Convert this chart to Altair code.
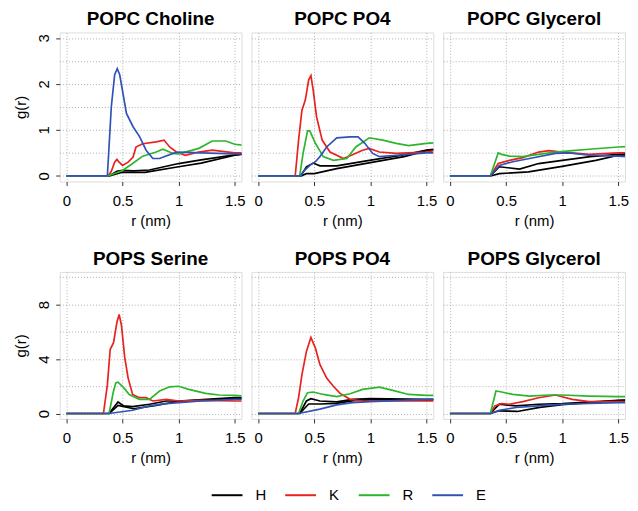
import altair as alt
import pandas as pd

SERIES = ["H", "K", "R", "E"]
COLORS = ["#000000", "#E8221E", "#2DB52D", "#3053B5"]

# ---- POPC Choline ----
choline_H1 = [(0, 0), (0.38, 0), (0.45, 0.10), (0.5, 0.12), (0.6, 0.11), (0.74, 0.13), (1.0, 0.27), (1.2, 0.35), (1.5, 0.46), (1.57, 0.48)]
choline_H2 = [(0.38, 0), (0.5, 0.08), (0.7, 0.08), (1.0, 0.20), (1.2, 0.28), (1.5, 0.45), (1.57, 0.47)]
choline_K = [(0, 0), (0.37, 0), (0.40, 0.10), (0.43, 0.30), (0.45, 0.36), (0.47, 0.30), (0.5, 0.23), (0.55, 0.30), (0.594, 0.41), (0.62, 0.63), (0.68, 0.70), (0.8, 0.74), (0.87, 0.78), (0.92, 0.63), (0.98, 0.52), (1.06, 0.45), (1.18, 0.52), (1.3, 0.56), (1.5, 0.50), (1.57, 0.50)]
choline_R = [(0, 0), (0.37, 0), (0.5, 0.12), (0.59, 0.27), (0.68, 0.43), (0.8, 0.52), (0.86, 0.58), (0.95, 0.49), (1.0, 0.48), (1.18, 0.60), (1.3, 0.76), (1.42, 0.76), (1.5, 0.69), (1.57, 0.67)]
choline_E = [(0, 0), (0.365, 0), (0.40, 1.5), (0.43, 2.2), (0.453, 2.33), (0.475, 2.2), (0.535, 1.36), (0.594, 1.07), (0.653, 0.85), (0.71, 0.56), (0.77, 0.38), (0.83, 0.38), (0.95, 0.49), (1.0, 0.52), (1.2, 0.50), (1.5, 0.48), (1.57, 0.48)]

# ---- POPC PO4 ----
popc_po4_H1 = [(0, 0), (0.38, 0), (0.43, 0.20), (0.49, 0.28), (0.55, 0.22), (0.70, 0.22), (0.99, 0.34), (1.28, 0.45), (1.5, 0.56), (1.57, 0.58)]
popc_po4_H2 = [(0.38, 0), (0.43, 0.05), (0.5, 0.05), (0.7, 0.16), (1.0, 0.29), (1.3, 0.42), (1.5, 0.55), (1.57, 0.57)]
popc_po4_K = [(0, 0), (0.33, 0), (0.36, 0.78), (0.39, 1.43), (0.42, 1.65), (0.45, 2.09), (0.47, 2.18), (0.49, 1.87), (0.52, 1.29), (0.57, 0.78), (0.64, 0.52), (0.76, 0.38), (0.83, 0.45), (0.93, 0.56), (0.99, 0.60), (1.08, 0.52), (1.23, 0.49), (1.5, 0.52), (1.57, 0.55)]
popc_po4_R = [(0, 0), (0.37, 0), (0.40, 0.49), (0.44, 0.98), (0.46, 0.98), (0.51, 0.71), (0.58, 0.42), (0.67, 0.34), (0.79, 0.38), (0.87, 0.63), (0.99, 0.83), (1.11, 0.78), (1.23, 0.71), (1.34, 0.66), (1.5, 0.71), (1.57, 0.72)]
popc_po4_E = [(0, 0), (0.38, 0), (0.40, 0.09), (0.46, 0.23), (0.51, 0.31), (0.55, 0.42), (0.61, 0.63), (0.70, 0.83), (0.82, 0.85), (0.89, 0.85), (0.95, 0.71), (1.02, 0.49), (1.08, 0.42), (1.23, 0.45), (1.5, 0.50), (1.57, 0.50)]

# ---- POPC Glycerol ----
popc_gly_H1 = [(0, 0), (0.36, 0), (0.44, 0.20), (0.62, 0.15), (0.79, 0.27), (1.0, 0.34), (1.25, 0.42), (1.5, 0.47), (1.57, 0.48)]
popc_gly_H2 = [(0.36, 0), (0.44, 0.05), (0.7, 0.09), (1.0, 0.21), (1.3, 0.34), (1.5, 0.45), (1.57, 0.46)]
popc_gly_K = [(0, 0), (0.36, 0), (0.43, 0.27), (0.53, 0.34), (0.65, 0.40), (0.79, 0.52), (0.88, 0.55), (1.0, 0.52), (1.24, 0.47), (1.5, 0.50), (1.57, 0.50)]
popc_gly_R = [(0, 0), (0.36, 0), (0.43, 0.50), (0.46, 0.47), (0.53, 0.43), (0.65, 0.42), (0.79, 0.47), (0.94, 0.52), (1.09, 0.55), (1.24, 0.58), (1.5, 0.63), (1.57, 0.64)]
popc_gly_E = [(0, 0), (0.36, 0), (0.44, 0.23), (0.56, 0.31), (0.71, 0.38), (0.94, 0.49), (1.06, 0.50), (1.24, 0.45), (1.5, 0.43), (1.57, 0.42)]

# ---- POPS Serine ----
serine_H1 = [(0, 0), (0.38, 0), (0.46, 0.85), (0.51, 0.56), (0.59, 0.50), (0.74, 0.68), (0.89, 0.92), (1.0, 0.92), (1.5, 1.16), (1.57, 1.16)]
serine_H2 = [(0.38, 0), (0.46, 0.60), (0.6, 0.35), (0.8, 0.60), (1.0, 0.90), (1.5, 1.10), (1.57, 1.10)]
serine_K = [(0, 0), (0.33, 0), (0.365, 2.1), (0.39, 4.7), (0.42, 5.2), (0.45, 6.7), (0.47, 7.27), (0.49, 6.5), (0.52, 4.1), (0.55, 2.6), (0.59, 1.4), (0.65, 1.16), (0.71, 1.16), (0.77, 0.92), (0.89, 1.04), (1.0, 0.92), (1.2, 0.97), (1.5, 0.92), (1.57, 0.92)]
serine_R = [(0, 0), (0.38, 0), (0.42, 1.65), (0.44, 2.25), (0.46, 2.3), (0.51, 1.9), (0.56, 1.4), (0.65, 1.04), (0.74, 1.04), (0.83, 1.65), (0.92, 1.96), (1.0, 2.0), (1.09, 1.77), (1.24, 1.48), (1.36, 1.36), (1.5, 1.33), (1.57, 1.30)]
serine_E = [(0, 0), (0.38, 0), (0.59, 0.24), (0.74, 0.56), (0.89, 0.73), (1.0, 0.80), (1.2, 0.92), (1.5, 1.04), (1.57, 1.05)]

# ---- POPS PO4 ----
pops_po4_H1 = [(0, 0), (0.37, 0), (0.43, 0.92), (0.47, 1.09), (0.55, 0.92), (0.7, 0.85), (0.84, 1.04), (1.0, 1.09), (1.5, 1.04), (1.57, 1.04)]
pops_po4_H2 = [(0.37, 0), (0.45, 0.70), (0.55, 0.70), (0.7, 0.75), (0.85, 0.95), (1.0, 1.0), (1.5, 1.0), (1.57, 1.0)]
pops_po4_K = [(0, 0), (0.33, 0), (0.36, 1.16), (0.39, 2.86), (0.43, 4.56), (0.47, 5.58), (0.51, 4.8), (0.55, 3.6), (0.61, 2.6), (0.67, 2.0), (0.73, 1.48), (0.82, 1.04), (0.93, 0.92), (1.2, 0.92), (1.5, 0.92), (1.57, 0.92)]
pops_po4_R = [(0, 0), (0.36, 0), (0.40, 0.92), (0.44, 1.53), (0.49, 1.58), (0.58, 1.4), (0.70, 1.24), (0.82, 1.45), (0.93, 1.77), (1.08, 1.94), (1.2, 1.7), (1.34, 1.4), (1.5, 1.33), (1.57, 1.33)]
pops_po4_E = [(0, 0), (0.36, 0), (0.55, 0.32), (0.70, 0.63), (0.84, 0.80), (1.0, 0.87), (1.5, 1.04), (1.57, 1.05)]

# ---- POPS Glycerol ----
pops_gly_H1 = [(0, 0), (0.36, 0), (0.44, 0.68), (0.59, 0.56), (0.79, 0.68), (1.0, 0.73), (1.5, 0.97), (1.57, 0.98)]
pops_gly_H2 = [(0.36, 0), (0.44, 0.20), (0.6, 0.15), (0.8, 0.45), (1.0, 0.65), (1.5, 0.95), (1.57, 0.96)]
pops_gly_K = [(0, 0), (0.36, 0), (0.40, 0.56), (0.46, 0.73), (0.53, 0.68), (0.65, 0.87), (0.79, 1.16), (0.94, 1.36), (1.09, 1.04), (1.24, 0.87), (1.5, 0.87), (1.57, 0.87)]
pops_gly_R = [(0, 0), (0.36, 0), (0.41, 1.65), (0.46, 1.58), (0.56, 1.4), (0.71, 1.28), (0.88, 1.36), (1.0, 1.36), (1.24, 1.28), (1.5, 1.24), (1.57, 1.24)]
pops_gly_E = [(0, 0), (0.36, 0), (0.44, 0.24), (0.59, 0.44), (0.79, 0.56), (1.0, 0.68), (1.5, 0.80), (1.57, 0.80)]

X_TICKS = [0, 0.5, 1, 1.5]
Y_GRID_TOP = [0, 0.5, 1, 1.5, 2, 2.5, 3]
Y_GRID_BOTTOM = [0, 2, 4, 6, 8, 10]

panels_top = [
    ("POPC Choline", {"H1": choline_H1, "H2": choline_H2, "K": choline_K, "R": choline_R, "E": choline_E}),
    ("POPC PO4", {"H1": popc_po4_H1, "H2": popc_po4_H2, "K": popc_po4_K, "R": popc_po4_R, "E": popc_po4_E}),
    ("POPC Glycerol", {"H1": popc_gly_H1, "H2": popc_gly_H2, "K": popc_gly_K, "R": popc_gly_R, "E": popc_gly_E}),
]
panels_bottom = [
    ("POPS Serine", {"H1": serine_H1, "H2": serine_H2, "K": serine_K, "R": serine_R, "E": serine_E}),
    ("POPS PO4", {"H1": pops_po4_H1, "H2": pops_po4_H2, "K": pops_po4_K, "R": pops_po4_R, "E": pops_po4_E}),
    ("POPS Glycerol", {"H1": pops_gly_H1, "H2": pops_gly_H2, "K": pops_gly_K, "R": pops_gly_R, "E": pops_gly_E}),
]

FONT = "Liberation Sans"


def to_df(sd):
    rows = []
    for name, pts in sd.items():
        for r, g in pts:
            rows.append({"r": r, "g": g, "series": name[0], "curve": name})
    return pd.DataFrame(rows)


def panel(title, sd, ydomain, ygrid, label_mod, first, height):
    df = to_df(sd)
    x = alt.X("r:Q",
              scale=alt.Scale(domain=[-0.06, 1.56], nice=False, zero=False),
              axis=alt.Axis(values=X_TICKS, format="~g", title="r (nm)",
                            grid=True, gridDash=[1, 2], gridColor="#b0b0b0",
                            domain=False, tickSize=4, tickColor="#333",
                            labelFontSize=15, titleFontSize=15, labelFont=FONT,
                            titleFont=FONT, titleFontWeight="normal",
                            labelColor="#000", titleColor="#000",
                            labelPadding=8, titlePadding=5, labelFlush=False))
    if first:
        yaxis = alt.Axis(values=ygrid, format="~g", title="g(r)",
                         labelExpr=f"datum.value % {label_mod} == 0 ? datum.label : ''",
                         tickOpacity={"condition": {"test": f"datum.value % {label_mod} != 0", "value": 0}, "value": 1},
                         grid=True, gridDash=[1, 2], gridColor="#b0b0b0",
                         domain=False, tickSize=4, tickColor="#333",
                         labelAngle=-90, labelAlign="center", labelBaseline="bottom",
                         labelFontSize=15, titleFontSize=15, labelFont=FONT,
                         titleFont=FONT, titleFontWeight="normal",
                         labelColor="#000", titleColor="#000",
                         labelPadding=4, titlePadding=8)
    else:
        yaxis = alt.Axis(values=ygrid, title=None, labels=False, ticks=False,
                         grid=True, gridDash=[1, 2], gridColor="#b0b0b0", domain=False)
    y = alt.Y("g:Q", scale=alt.Scale(domain=ydomain, nice=False, zero=False), axis=yaxis)
    color = alt.Color("series:N",
                      scale=alt.Scale(domain=SERIES, range=COLORS),
                      legend=alt.Legend(orient="none", direction="horizontal",
                                        legendX=152, legendY=449, title=None,
                                        symbolType="stroke", symbolSize=961,
                                        symbolStrokeWidth=2, labelFontSize=15,
                                        labelFont=FONT, labelColor="#000",
                                        labelOffset=12, columnPadding=15))
    layers = []
    for s in SERIES:
        layers.append(
            alt.Chart(df).transform_filter(alt.datum.series == s)
            .mark_line(clip=True, strokeWidth=1.7)
            .encode(x=x, y=y, color=color, detail="curve:N")
        )
    return alt.layer(*layers).properties(
        width=183, height=height,
        title=alt.TitleParams(title, fontSize=19, fontWeight="bold", font=FONT,
                              color="#000", anchor="middle", offset=3))


top = alt.hconcat(*[panel(t, sd, [-0.12, 3.12], Y_GRID_TOP, 1, i == 0, 150)
                    for i, (t, sd) in enumerate(panels_top)], spacing=10, bounds="flush")
bottom = alt.hconcat(*[panel(t, sd, [-0.4, 10.4], Y_GRID_BOTTOM, 4, i == 0, 148)
                       for i, (t, sd) in enumerate(panels_bottom)], spacing=10, bounds="flush")

chart = alt.vconcat(top, bottom, spacing=20).resolve_scale(
    y="independent", color="shared"
).properties(
    padding={"left": 5, "top": 0, "right": 0, "bottom": 0}
).configure_view(stroke="#333", strokeWidth=1).configure(background="white")

chart.save("out.html", embed_options={"renderer": "svg", "actions": False})
